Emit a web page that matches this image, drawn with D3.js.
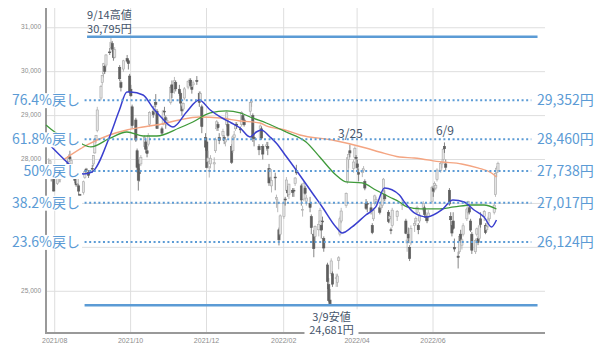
<!DOCTYPE html>
<html>
<head>
<meta charset="utf-8">
<script src="https://cdn.jsdelivr.net/npm/d3@7"></script>
<style>
  body { margin: 0; background: #fff; }
  svg { display: block; }
</style>
</head>
<body>
<script>
// daily candles: date, open, high, low, close
var candles = [
  ["2021-07-26",27770,28030,27700,27833],["2021-07-27",27900,27990,27780,27970],["2021-07-28",27800,27860,27500,27581],
  ["2021-07-29",27650,27840,27620,27782],["2021-07-30",27700,27750,27270,27283],
  ["2021-08-02",27450,27830,27420,27781],["2021-08-03",27780,27820,27570,27641],["2021-08-04",27680,27700,27480,27584],
  ["2021-08-05",27600,27760,27550,27728],["2021-08-06",27780,27870,27730,27820],["2021-08-10",27900,28000,27820,27888],
  ["2021-08-11",27950,28120,27930,28070],["2021-08-12",28060,28200,27990,28015],["2021-08-13",27900,28020,27870,27977],
  ["2021-08-16",27850,27880,27460,27523],["2021-08-17",27500,27600,27380,27424],["2021-08-18",27450,27640,27400,27585],
  ["2021-08-19",27400,27450,27180,27281],["2021-08-20",27200,27220,26954,27013],["2021-08-23",27250,27520,27200,27494],
  ["2021-08-24",27590,27760,27560,27732],["2021-08-25",27780,27810,27680,27724],["2021-08-26",27700,27800,27650,27742],
  ["2021-08-27",27700,27760,27580,27641],["2021-08-30",27800,27880,27700,27789],["2021-08-31",27900,28100,27840,28089],
  ["2021-09-01",28150,28470,28130,28451],["2021-09-02",28450,28560,28380,28543],["2021-09-03",28660,29200,28620,29128],
  ["2021-09-06",29400,29700,29350,29659],["2021-09-07",29750,29930,29680,29916],["2021-09-08",29950,30200,29870,30181],
  ["2021-09-09",30120,30150,29950,30008],["2021-09-10",30150,30400,30100,30381],["2021-09-13",30450,30540,30380,30447],
  ["2021-09-14",30550,30795,30520,30670],["2021-09-15",30640,30700,30450,30511],["2021-09-16",30480,30520,30250,30323],
  ["2021-09-17",30330,30560,30300,30500],["2021-09-21",30100,30150,29780,29839],["2021-09-22",29750,29800,29550,29639],
  ["2021-09-24",30060,30270,30000,30248],["2021-09-27",30300,30380,30200,30240],["2021-09-28",30250,30290,30050,30183],
  ["2021-09-29",29900,29950,29500,29544],["2021-09-30",29600,29700,29430,29452],
  ["2021-10-01",29200,29250,28700,28771],["2021-10-04",28900,28950,28400,28444],["2021-10-05",28200,28250,27700,27822],
  ["2021-10-06",27900,28000,27293,27528],["2021-10-07",27700,27800,27500,27678],["2021-10-08",27900,28100,27850,28048],
  ["2021-10-11",28300,28550,28250,28498],["2021-10-12",28400,28450,28150,28230],["2021-10-13",28200,28300,28050,28140],
  ["2021-10-14",28350,28600,28300,28550],["2021-10-15",28800,29100,28750,29068],["2021-10-18",29100,29150,28950,29025],
  ["2021-10-19",29100,29300,29050,29215],["2021-10-20",29300,29490,29200,29255],["2021-10-21",29100,29150,28700,28708],
  ["2021-10-22",28800,28900,28700,28804],["2021-10-25",28700,28750,28550,28600],["2021-10-26",28800,29130,28780,29106],
  ["2021-10-27",29100,29200,29000,29098],["2021-10-28",28950,29000,28700,28820],["2021-10-29",28850,28950,28770,28892],
  ["2021-11-01",29300,29700,29250,29647],["2021-11-02",29700,29800,29400,29520],["2021-11-04",29600,29880,29500,29794],
  ["2021-11-05",29750,29800,29550,29611],["2021-11-08",29600,29700,29450,29507],["2021-11-09",29500,29550,29200,29285],
  ["2021-11-10",29200,29250,29000,29106],["2021-11-11",29150,29300,29100,29277],["2021-11-12",29400,29650,29350,29609],
  ["2021-11-15",29650,29800,29600,29776],["2021-11-16",29750,29850,29700,29808],["2021-11-17",29800,29850,29650,29688],
  ["2021-11-18",29650,29700,29500,29598],["2021-11-19",29700,29800,29650,29745],["2021-11-22",29800,29900,29700,29774],
  ["2021-11-24",29500,29550,29200,29302],["2021-11-25",29350,29550,29300,29499],["2021-11-26",29200,29250,28600,28751],
  ["2021-11-29",28500,28600,28200,28283],["2021-11-30",28400,28500,27800,27821],
  ["2021-12-01",27950,28200,27800,28035],["2021-12-02",27750,27850,27590,27753],["2021-12-03",27900,28100,27800,28029],
  ["2021-12-06",27900,28050,27750,27927],["2021-12-07",28200,28500,28150,28455],["2021-12-08",28700,28900,28650,28860],
  ["2021-12-09",28800,28850,28650,28725],["2021-12-10",28500,28600,28350,28437],["2021-12-13",28550,28700,28500,28640],
  ["2021-12-14",28500,28550,28350,28432],["2021-12-15",28400,28500,28300,28459],["2021-12-16",28800,29100,28750,29066],
  ["2021-12-17",28800,28900,28500,28545],["2021-12-20",28300,28350,27900,27937],["2021-12-21",28200,28550,28150,28517],
  ["2021-12-22",28500,28650,28450,28562],["2021-12-23",28700,28850,28650,28798],["2021-12-24",28800,28850,28700,28782],
  ["2021-12-27",28700,28750,28600,28676],["2021-12-28",28800,29100,28750,29069],["2021-12-29",29000,29050,28850,28906],
  ["2021-12-30",28900,28950,28750,28791],
  ["2022-01-04",29100,29323,29000,29301],["2022-01-05",29300,29388,29200,29332],["2022-01-06",29000,29050,28400,28487],
  ["2022-01-07",28500,28600,28300,28478],["2022-01-11",28300,28350,28100,28222],["2022-01-12",28500,28800,28450,28765],
  ["2022-01-13",28700,28750,28450,28489],["2022-01-14",28300,28350,28000,28124],["2022-01-17",28300,28400,28200,28333],
  ["2022-01-18",28300,28400,28100,28257],["2022-01-19",27800,27900,27400,27467],["2022-01-20",27600,27800,27550,27772],
  ["2022-01-21",27400,27600,27250,27522],["2022-01-24",27600,27700,27300,27588],["2022-01-25",27100,27200,26900,27131],
  ["2022-01-26",27000,27100,26800,27011],["2022-01-27",26400,26450,26044,26170],["2022-01-28",26300,26750,26250,26717],
  ["2022-01-31",26700,27050,26650,27001],
  ["2022-02-01",27100,27150,26950,27078],["2022-02-02",27300,27600,27250,27533],["2022-02-03",27300,27400,27150,27241],
  ["2022-02-04",27200,27450,27100,27439],["2022-02-07",27300,27350,27150,27248],["2022-02-08",27300,27350,27150,27284],
  ["2022-02-09",27450,27600,27400,27579],["2022-02-10",27750,27880,27650,27696],["2022-02-14",27400,27450,26950,27079],
  ["2022-02-15",26850,26950,26700,26865],["2022-02-16",27100,27500,27050,27460],["2022-02-17",27350,27400,27200,27232],
  ["2022-02-18",27050,27200,26950,27122],["2022-02-21",27000,27150,26800,26910],["2022-02-22",26700,26750,26300,26449],
  ["2022-02-24",26300,26400,25775,25970],["2022-02-25",26250,26500,26150,26476],["2022-02-28",26400,26600,26250,26526],
  ["2022-03-01",26600,26900,26550,26844],["2022-03-02",26500,26550,26200,26393],["2022-03-03",26600,26700,26400,26577],
  ["2022-03-04",26200,26250,25900,25985],["2022-03-07",25600,25650,25050,25221],["2022-03-08",25150,25300,24750,24790],
  ["2022-03-09",24800,25050,24681,24717],["2022-03-10",25400,25750,25350,25690],["2022-03-11",25400,25450,25100,25162],
  ["2022-03-14",25300,25400,25100,25307],["2022-03-15",25200,25400,25100,25346],["2022-03-16",25700,25800,25500,25762],
  ["2022-03-17",26300,26700,26250,26652],["2022-03-18",26600,26900,26550,26827],["2022-03-22",26950,27250,26900,27224],
  ["2022-03-23",27500,28050,27450,28040],["2022-03-24",28000,28150,27800,28110],["2022-03-25",28200,28338,28050,28149],
  ["2022-03-28",27800,28000,27700,27943],["2022-03-29",28050,28300,28000,28252],["2022-03-30",28050,28100,27800,28027],
  ["2022-03-31",27900,28000,27750,27821],
  ["2022-04-01",27700,27800,27500,27665],["2022-04-04",27700,27800,27600,27736],["2022-04-05",27750,27850,27700,27787],
  ["2022-04-06",27500,27550,27300,27350],["2022-04-07",27000,27100,26850,26888],["2022-04-08",27000,27050,26800,26985],
  ["2022-04-11",26900,27000,26750,26821],["2022-04-12",26500,26550,26300,26335],["2022-04-13",26650,26900,26600,26843],
  ["2022-04-14",27000,27200,26950,27172],["2022-04-15",27050,27150,27000,27093],["2022-04-18",26900,26950,26750,26799],
  ["2022-04-19",26900,27050,26850,26985],["2022-04-20",26950,27250,26900,27217],["2022-04-21",27300,27580,27250,27553],
  ["2022-04-22",27200,27300,27050,27105],["2022-04-25",26800,26850,26550,26590],["2022-04-26",26650,26750,26550,26700],
  ["2022-04-27",26400,26450,26300,26386],["2022-04-28",26500,26900,26450,26847],
  ["2022-05-02",26700,26850,26600,26818],["2022-05-06",26950,27100,26850,27003],["2022-05-09",26600,26650,26300,26319],
  ["2022-05-10",26100,26350,25900,26167],["2022-05-11",26300,26450,26100,26213],["2022-05-12",26000,26050,25688,25748],
  ["2022-05-13",26100,26500,26050,26427],["2022-05-16",26500,26600,26350,26547],["2022-05-17",26600,26700,26500,26659],
  ["2022-05-18",26800,26950,26750,26911],["2022-05-19",26500,26550,26300,26402],["2022-05-20",26600,26800,26550,26739],
  ["2022-05-23",26850,27050,26800,27001],["2022-05-24",26900,26950,26700,26748],["2022-05-25",26700,26800,26600,26677],
  ["2022-05-26",26700,26750,26550,26604],["2022-05-27",26700,26850,26650,26781],["2022-05-30",27050,27400,27000,27369],
  ["2022-05-31",27350,27400,27150,27279],
  ["2022-06-01",27350,27500,27250,27457],["2022-06-02",27350,27450,27300,27413],["2022-06-03",27550,27800,27500,27761],
  ["2022-06-06",27750,27950,27700,27915],["2022-06-07",27900,28000,27800,27943],["2022-06-08",28000,28250,27950,28234],
  ["2022-06-09",28300,28389,28150,28246],["2022-06-10",27900,28000,27750,27824],["2022-06-13",27300,27350,26950,26987],
  ["2022-06-14",26700,26800,26500,26629],["2022-06-15",26500,26600,26250,26326],["2022-06-16",26600,26800,26400,26431],
  ["2022-06-17",26000,26200,25900,25963],["2022-06-20",25800,25900,25520,25771],["2022-06-21",25900,26300,25850,26246],
  ["2022-06-22",26300,26400,26100,26149],["2022-06-23",26050,26200,25950,26171],["2022-06-24",26300,26550,26250,26491],
  ["2022-06-27",26650,26900,26600,26871],["2022-06-28",26800,27060,26750,27049],["2022-06-29",26900,26950,26750,26804],
  ["2022-06-30",26600,26650,26350,26393],
  ["2022-07-01",26300,26350,25850,25935],["2022-07-04",25900,26200,25850,26153],["2022-07-05",26300,26450,26250,26423],
  ["2022-07-06",26200,26250,26050,26107],["2022-07-07",26200,26500,26150,26490],["2022-07-08",26650,26800,26450,26517],
  ["2022-07-11",26700,26850,26600,26812],["2022-07-12",26500,26550,26300,26336],["2022-07-13",26400,26550,26350,26478],
  ["2022-07-14",26550,26700,26450,26643],["2022-07-15",26650,26800,26600,26788],["2022-07-19",26800,27000,26750,26961],
  ["2022-07-20",27200,27700,27150,27680],["2022-07-21",27700,27850,27600,27803],["2022-07-22",27750,27950,27700,27914]
]

// moving averages
var ma25 = [
  ["2021-07-29",28300],["2021-08-09",27990],["2021-08-18",27762],["2021-08-24",27671],["2021-08-31",27717],
  ["2021-09-14",28514],["2021-09-22",29128],["2021-09-28",29538],["2021-10-01",29538],["2021-10-11",29470],
  ["2021-10-19",29174],["2021-10-25",28980],["2021-11-04",28741],["2021-11-15",29083],["2021-11-25",29356],
  ["2021-12-04",29128],["2021-12-12",28969],["2021-12-21",28832],["2021-12-28",28718],["2022-01-05",28514],
  ["2022-01-10",28627],["2022-01-14",28673],["2022-01-21",28514],["2022-01-26",28377],["2022-02-02",28110],
  ["2022-02-11",27762],["2022-02-24",27238],["2022-03-04",26920],["2022-03-15",26464],["2022-03-20",26328],
  ["2022-03-28",26464],["2022-04-08",26737],["2022-04-16",26920],["2022-04-23",27350],["2022-05-05",27193],
  ["2022-05-09",27033],["2022-05-17",26783],["2022-05-27",26692],["2022-06-08",26851],["2022-06-17",27079],
  ["2022-06-26",27033],["2022-07-04",26851],["2022-07-12",26692],["2022-07-18",26464],["2022-07-22",26624]
]
var ma75 = [
  ["2021-07-25",28787],["2021-08-01",28627],["2021-08-21",28377],["2021-08-30",28286],["2021-09-14",28480],
  ["2021-09-28",28627],["2021-10-11",28536],["2021-10-22",28536],["2021-11-09",28718],["2021-11-20",28855],
  ["2021-12-04",29060],["2021-12-17",29106],["2021-12-28",29060],["2022-01-07",28946],["2022-01-18",28832],
  ["2022-02-03",28627],["2022-02-19",28400],["2022-03-02",28058],["2022-03-15",27648],["2022-03-23",27489],
  ["2022-04-05",27466],["2022-04-16",27307],["2022-04-27",27147],["2022-05-05",27033],["2022-05-11",26920],
  ["2022-05-22",26874],["2022-06-05",26874],["2022-06-18",26920],["2022-07-02",26965],["2022-07-12",26965],
  ["2022-07-22",26874]
]
var ma200 = [
  ["2021-08-08",27990],["2021-08-27",28331],["2021-09-14",28559],["2021-09-28",28673],["2021-10-11",28741],
  ["2021-10-26",28810],["2021-11-09",28901],["2021-11-25",28969],["2021-12-12",28946],["2021-12-28",28878],
  ["2022-01-13",28832],["2022-01-18",28764],["2022-02-02",28673],["2022-02-14",28559],["2022-03-12",28445],
  ["2022-04-08",28263],["2022-04-19",28172],["2022-05-05",28058],["2022-05-17",28035],["2022-06-08",27944],
  ["2022-06-24",27899],["2022-07-07",27808],["2022-07-18",27694],["2022-07-22",27603]
]

var fibLabels = ["76.4%戻し", "61.8%戻し", "50%戻し", "38.2%戻し", "23.6%戻し"]
var fibValues = [29352, 28460, 27738, 27017, 26124]
var highValue = 30795, highLabel = ["9/14高値", "30,795円"]
var lowValue = 24681, lowDate = "2022-03-09", lowLabel = ["3/9安値", "24,681円"]
var peakNotes = [["2022-03-25", 28338, "3/25"], ["2022-06-09", 28389, "6/9"]]

var yTicks = [25000, 26000, 27000, 28000, 29000, 30000, 31000]
var yTickShown = [25000, 28000, 29000, 30000, 31000]
var xTicks = ["2021-08-01", "2021-10-01", "2021-12-01", "2022-02-01", "2022-04-01", "2022-06-01"]

var parse = d3.timeParse("%Y-%m-%d")
var blue = "#5b9bd5"
var noteColor = "#44546a"
var jp = "'Noto Sans CJK JP', 'Noto Sans', sans-serif"

var svg = d3.select("body").append("svg")
  .attr("width", 600)
  .attr("height", 347)

var x = d3.scaleTime()
  .domain([parse("2021-07-25"), parse("2022-08-30")])
  .range([46, 545])
var y = d3.scaleLinear()
  .domain([24050, 31450])
  .range([333, 8])

// grid
svg.append("g").selectAll("line")
  .data(yTicks).enter().append("line")
  .attr("x1", 46).attr("x2", 545)
  .attr("y1", (d) => y(d)).attr("y2", (d) => y(d))
  .attr("stroke", "#dedede").attr("stroke-width", 1)
svg.append("g").selectAll("line")
  .data(xTicks).enter().append("line")
  .attr("x1", (d) => x(parse(d))).attr("x2", (d) => x(parse(d)))
  .attr("y1", 8).attr("y2", 333)
  .attr("stroke", "#dedede").attr("stroke-width", 1)

// axis lines + tick labels
svg.append("line").attr("x1", 46).attr("x2", 46).attr("y1", 8).attr("y2", 334)
  .attr("stroke", "#999").attr("stroke-width", 2)
svg.append("line").attr("x1", 45).attr("x2", 545).attr("y1", 333).attr("y2", 333)
  .attr("stroke", "#999").attr("stroke-width", 2)

svg.append("g").selectAll("text")
  .data(yTickShown).enter().append("text")
  .attr("x", 41).attr("y", (d) => y(d) + 1.5)
  .attr("text-anchor", "end")
  .attr("font-family", "'Liberation Sans', sans-serif").attr("font-size", 6.5)
  .attr("fill", "#8c8c8c")
  .text(d3.format(","))
svg.append("g").selectAll("text")
  .data(xTicks).enter().append("text")
  .attr("x", (d) => x(parse(d))).attr("y", 343)
  .attr("text-anchor", "middle")
  .attr("font-family", "'Liberation Sans', sans-serif").attr("font-size", 7)
  .attr("fill", "#8c8c8c")
  .text((d) => d3.timeFormat("%Y/%m")(parse(d)))

// candles
var cw = 2.2
var candleG = svg.append("g")
var cg = candleG.selectAll("g").data(candles).enter().append("g")
cg.append("line")
  .attr("x1", (d) => x(parse(d[0])) + 1.5).attr("x2", (d) => x(parse(d[0])) + 1.5)
  .attr("y1", (d) => y(d[2])).attr("y2", (d) => y(d[3]))
  .attr("stroke", (d) => d[4] >= d[1] ? "#a8a8a8" : "#666").attr("stroke-width", 0.8)
cg.append("rect")
  .attr("x", (d) => x(parse(d[0])) + 1.5 - cw / 2)
  .attr("width", cw)
  .attr("y", (d) => y(Math.max(d[1], d[4])))
  .attr("height", (d) => Math.max(0.8, Math.abs(y(d[1]) - y(d[4]))))
  .attr("fill", (d) => d[4] >= d[1] ? "#e4e4e4" : "#5e5e5e")
  .attr("stroke", (d) => d[4] >= d[1] ? "#a8a8a8" : "#5e5e5e")
  .attr("stroke-width", 0.6)

// moving averages
var maLine = d3.line()
  .x((d) => x(parse(d[0])))
  .y((d) => y(d[1]))
  .curve(d3.curveMonotoneX)
svg.append("path").datum(ma200).attr("d", maLine)
  .attr("fill", "none").attr("stroke", "#f4a582").attr("stroke-width", 1.4)
svg.append("path").datum(ma75).attr("d", maLine)
  .attr("fill", "none").attr("stroke", "#3f9a3a").attr("stroke-width", 1.3)
svg.append("path").datum(ma25).attr("d", maLine)
  .attr("fill", "none").attr("stroke", "#3a3fcf").attr("stroke-width", 1.5)

// fibonacci retracement lines
var lineStart = parse("2021-08-25"), lineEnd = parse("2022-08-19"), solidEnd = parse("2022-08-24")
svg.append("g").selectAll("line")
  .data(fibValues).enter().append("line")
  .attr("x1", x(lineStart)).attr("x2", x(lineEnd))
  .attr("y1", (d) => y(d)).attr("y2", (d) => y(d))
  .attr("stroke", blue).attr("stroke-width", 2)
  .attr("stroke-dasharray", "2,2.6")

// left labels with white backing
var leftG = svg.append("g").selectAll("g")
  .data(fibLabels).enter().append("g")
leftG.append("rect")
  .attr("x", 8).attr("width", 74)
  .attr("y", (d, i) => y(fibValues[i]) - 7).attr("height", 15)
  .attr("fill", "#fff")
leftG.append("text")
  .attr("x", 80).attr("y", (d, i) => y(fibValues[i]) + 5)
  .attr("text-anchor", "end")
  .attr("font-family", jp).attr("font-size", 14)
  .attr("fill", blue)
  .text((d) => d)

svg.append("g").selectAll("text")
  .data(fibValues).enter().append("text")
  .attr("x", 537).attr("y", (d) => y(d) + 5)
  .attr("font-family", jp).attr("font-size", 14)
  .attr("fill", blue)
  .text((d) => d3.format(",")(d) + "円")

// high / low lines
var highStart = parse("2021-08-27")
svg.append("line")
  .attr("x1", x(highStart)).attr("x2", x(solidEnd))
  .attr("y1", y(highValue)).attr("y2", y(highValue))
  .attr("stroke", blue).attr("stroke-width", 2.5)
svg.append("line")
  .attr("x1", x(lineStart)).attr("x2", x(solidEnd))
  .attr("y1", y(lowValue)).attr("y2", y(lowValue))
  .attr("stroke", blue).attr("stroke-width", 2.5)

var hi = svg.append("text")
  .attr("font-family", jp).attr("font-size", 11)
  .attr("fill", noteColor)
hi.selectAll("tspan").data(highLabel).enter().append("tspan")
  .attr("x", x(highStart))
  .attr("y", (d, i) => y(highValue) - 17.5 + i * 13.5)
  .text((d) => d)

var lx = x(parse(lowDate)) + 3
svg.append("rect")
  .attr("x", lx - 27).attr("width", 54)
  .attr("y", y(lowValue) + 4).attr("height", 26)
  .attr("fill", "#fff")
var lo = svg.append("text")
  .attr("text-anchor", "middle")
  .attr("font-family", jp).attr("font-size", 11)
  .attr("fill", noteColor)
lo.selectAll("tspan").data(lowLabel).enter().append("tspan")
  .attr("x", lx)
  .attr("y", (d, i) => y(lowValue) + 15.5 + i * 13.5)
  .text((d) => d)

svg.append("g").selectAll("text")
  .data(peakNotes).enter().append("text")
  .attr("x", (d) => x(parse(d[0])) + 2).attr("y", (d) => y(d[1]) - 7)
  .attr("text-anchor", "middle")
  .attr("font-family", jp).attr("font-size", 12)
  .attr("fill", noteColor)
  .text((d) => d[2])
</script>
</body>
</html>
